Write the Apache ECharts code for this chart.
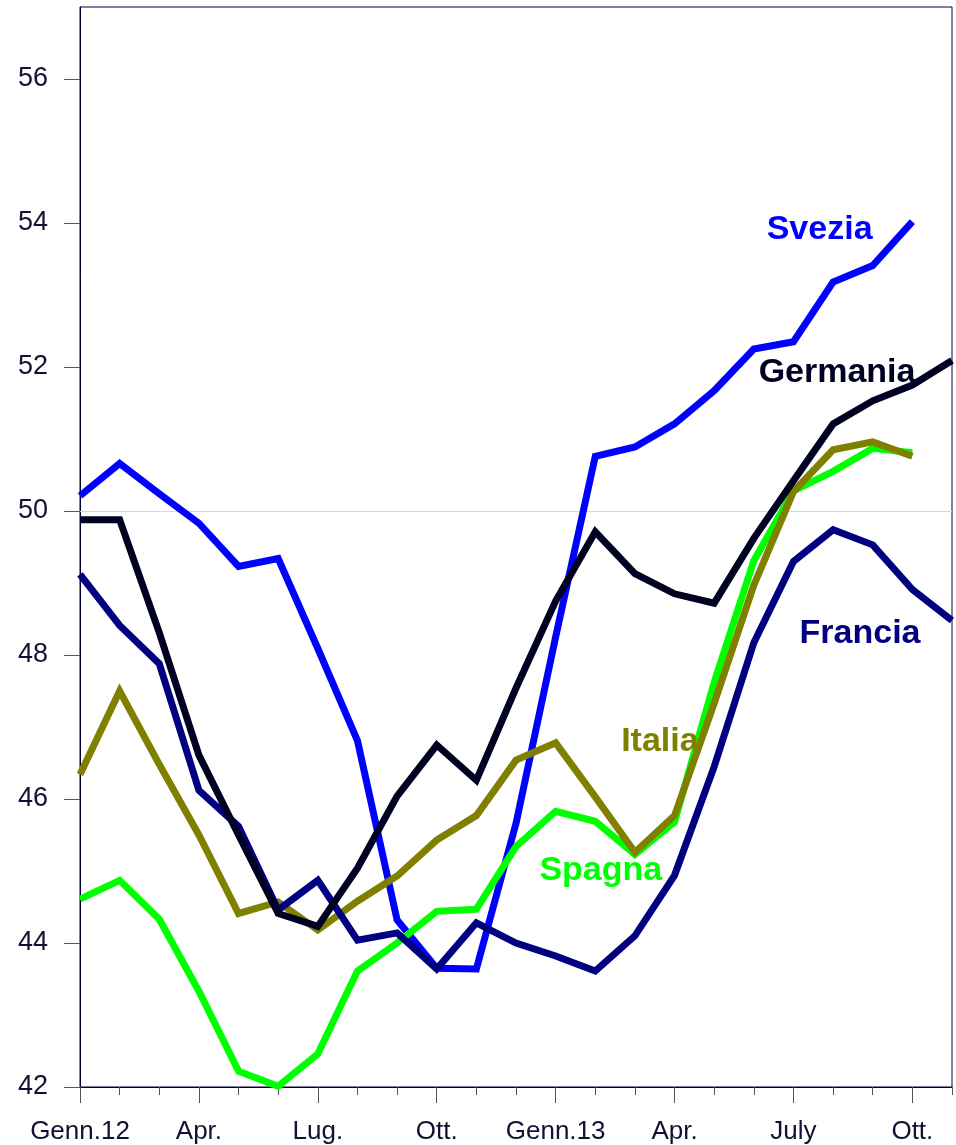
<!DOCTYPE html>
<html>
<head>
<meta charset="utf-8">
<script src="https://cdn.jsdelivr.net/npm/echarts@6/dist/echarts.min.js"></script>
<style>
  html, body { margin: 0; padding: 0; background: #ffffff; }
  #chart { width: 956px; height: 1145px; }
</style>
</head>
<body>
<div id="chart"></div>
<script>
// Monthly tick labels, Jan 2012 .. Nov 2013 (only every third month is labelled)
const monthLabels = ['Genn.12', '', '', 'Apr.', '', '', 'Lug.', '', '', 'Ott.', '', '',
                     'Genn.13', '', '', 'Apr.', '', '', 'July', '', '', 'Ott.', ''];
const yTicks = [42, 44, 46, 48, 50, 52, 54, 56];
const labelledMonths = [0, 3, 6, 9, 12, 15, 18, 21];

// PMI readings per country, one value per month
const svezia   = [50.21, 50.66, 50.24, 49.83, 49.23, 49.34, 48.09, 46.81, 44.32, 43.65, 43.64, 45.66,
                  48.25, 50.76, 50.89, 51.21, 51.67, 52.25, 52.35, 53.18, 53.41, 54.02];
const germania = [49.88, 49.88, 48.31, 46.61, 45.5, 44.41, 44.23, 45.04, 46.04, 46.75, 46.26, 47.54,
                  48.75, 49.71, 49.13, 48.85, 48.72, 49.62, 50.42, 51.21, 51.53, 51.75, 52.09];
const francia  = [49.12, 48.41, 47.88, 46.12, 45.62, 44.46, 44.87, 44.04, 44.14, 43.64, 44.28, 44.0,
                  43.82, 43.61, 44.1, 44.94, 46.45, 48.17, 49.3, 49.74, 49.53, 48.91, 48.48];
const italia   = [46.34, 47.5, 46.48, 45.5, 44.41, 44.57, 44.18, 44.58, 44.93, 45.43, 45.77, 46.54,
                  46.78, 46.03, 45.26, 45.77, 47.33, 48.97, 50.27, 50.85, 50.96, 50.76];
const spagna   = [44.61, 44.87, 44.33, 43.33, 42.22, 42.01, 42.46, 43.61, 44.0, 44.44, 44.47, 45.34,
                  45.83, 45.69, 45.23, 45.68, 47.62, 49.31, 50.28, 50.55, 50.87, 50.81];

const FONT = '"Liberation Sans", Arial, Helvetica, sans-serif';
const AXIS_TEXT = '#111133';

const toPairs = arr => arr.map((v, i) => [i, v]);

// Country name placed next to its line, anchored in data coordinates
function nameTag(text, color, x, y) {
  return {
    symbol: 'circle',
    symbolSize: 0,
    silent: true,
    label: {
      show: true,
      position: 'inside',
      formatter: text,
      color: color,
      fontFamily: FONT,
      fontWeight: 'bold',
      fontSize: 34
    },
    data: [{ coord: [x, y] }]
  };
}

function lineSeries(name, data, color, tag, z) {
  return {
    name: name,
    type: 'line',
    data: toPairs(data),
    symbol: 'none',
    z: z,
    lineStyle: { color: color, width: 7, join: 'miter' },
    itemStyle: { color: color },
    animation: false,
    markPoint: nameTag(name, color, tag[0], tag[1])
  };
}

const chart = echarts.init(document.getElementById('chart'), null, { renderer: 'canvas' });

const series = [
  lineSeries('Svezia', svezia, '#0000ff', [18.66, 53.91], 3),
  lineSeries('Spagna', spagna, '#00ff00', [13.14, 45.0], 4),
  lineSeries('Italia', italia, '#808000', [14.63, 46.8], 5),
  lineSeries('Francia', francia, '#000080', [19.68, 48.3], 6),
  lineSeries('Germania', germania, '#000020', [19.1, 51.92], 7)
];

// Reference line at the 50 threshold
series[0].markLine = {
  silent: true,
  symbol: 'none',
  z: 1,
  label: { show: false },
  lineStyle: { color: '#d6d6de', width: 1, type: 'solid' },
  data: [{ yAxis: 50 }],
  animation: false
};

chart.setOption({
  animation: false,
  backgroundColor: '#ffffff',
  grid: {
    left: 80, right: 4, top: 7, bottom: 56,
    show: true,
    borderColor: '#000033',
    borderWidth: 1,
    backgroundColor: 'transparent'
  },
  xAxis: [
    {
      type: 'value',
      min: 0, max: 22, interval: 1,
      position: 'bottom',
      axisLine: { show: true, onZero: false, lineStyle: { color: '#000033', width: 1 } },
      axisTick: { show: true, length: 8, lineStyle: { color: '#555555', width: 1 } },
      axisLabel: {
        show: true,
        margin: 32,
        color: AXIS_TEXT,
        fontFamily: FONT,
        fontSize: 26,
        showMinLabel: true,
        showMaxLabel: true,
        hideOverlap: false,
        formatter: v => monthLabels[v] || ''
      },
      splitLine: { show: false }
    },
    {
      type: 'value',
      min: 0, max: 22,
      position: 'bottom',
      axisLine: { show: false },
      axisTick: { show: true, length: 16, customValues: labelledMonths, lineStyle: { color: '#555555', width: 1 } },
      axisLabel: { show: false },
      splitLine: { show: false }
    }
  ],
  yAxis: {
    type: 'value',
    min: 42, max: 57,
    axisLine: { show: true, onZero: false, lineStyle: { color: '#000033', width: 1 } },
    axisTick: { show: true, length: 16, customValues: yTicks, lineStyle: { color: '#555555', width: 1 } },
    axisLabel: {
      show: true,
      margin: 32,
      customValues: yTicks,
      color: AXIS_TEXT,
      fontFamily: FONT,
      fontSize: 27
    },
    splitLine: { show: false }
  },
  series: series
});
</script>
</body>
</html>
